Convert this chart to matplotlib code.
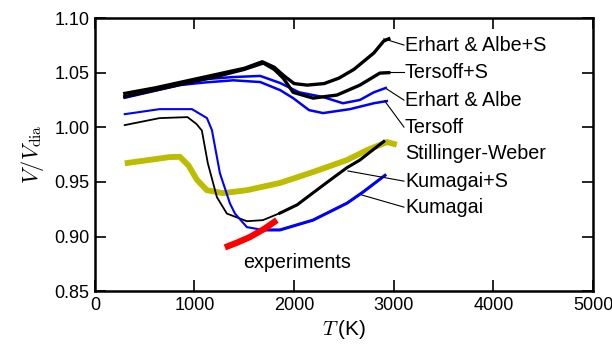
import matplotlib
matplotlib.use("Agg")
import matplotlib.pyplot as plt

plt.rcParams['font.family'] = ['Liberation Sans', 'DejaVu Sans']
plt.rcParams['mathtext.fontset'] = 'cm'

# -- data --
T_ea_s = [300, 600, 900, 1200, 1500, 1680, 1800, 1900, 2000, 2130, 2300, 2450, 2600, 2800, 2900, 2950]
V_ea_s = [1.031, 1.036, 1.042, 1.048, 1.054, 1.060, 1.055, 1.047, 1.040, 1.0386, 1.040, 1.045, 1.053, 1.068, 1.079, 1.081]

T_ter_s = [300, 900, 1200, 1500, 1690, 1800, 1890, 1990, 2190, 2430, 2660, 2860, 2950]
V_ter_s = [1.028, 1.040, 1.046, 1.053, 1.0588, 1.053, 1.045, 1.032, 1.0267, 1.0295, 1.0386, 1.0496, 1.050]

T_ea = [300, 850, 1100, 1390, 1660, 1860, 2050, 2290, 2490, 2660, 2800, 2920]
V_ea = [1.028, 1.0405, 1.044, 1.046, 1.047, 1.0405, 1.032, 1.0277, 1.022, 1.025, 1.032, 1.036]

T_ter = [300, 850, 1100, 1390, 1660, 1860, 1990, 2150, 2290, 2560, 2800, 2930]
V_ter = [1.027, 1.0386, 1.041, 1.043, 1.0414, 1.034, 1.0267, 1.0157, 1.013, 1.0166, 1.022, 1.024]

T_kum_s = [300, 650, 930, 1020, 1074, 1134, 1225, 1325, 1526, 1687, 1857, 2030, 2190, 2360, 2530, 2660, 2800, 2900]
V_kum_s = [1.002, 1.0084, 1.0093, 1.003, 0.997, 0.967, 0.936, 0.921, 0.914, 0.915, 0.9214, 0.929, 0.940, 0.9516, 0.963, 0.970, 0.980, 0.987]

T_kum = [300, 650, 975, 1125, 1175, 1255, 1355, 1406, 1526, 1687, 1857, 2189, 2530, 2690, 2912]
V_kum = [1.012, 1.0166, 1.0166, 1.0084, 0.9974, 0.958, 0.9305, 0.921, 0.9086, 0.906, 0.906, 0.915, 0.9305, 0.9406, 0.956]

T_sw = [300, 750, 853, 940, 1024, 1124, 1285, 1526, 1857, 2189, 2530, 2730, 2932, 3030]
V_sw = [0.967, 0.9727, 0.973, 0.965, 0.952, 0.9424, 0.9397, 0.9424, 0.949, 0.959, 0.970, 0.979, 0.9865, 0.984]

T_exp = [1305, 1430, 1556, 1700, 1827]
V_exp = [0.890, 0.8945, 0.8995, 0.907, 0.915]

labels = ["Erhart & Albe+S", "Tersoff+S", "Erhart & Albe", "Tersoff",
          "Stillinger-Weber", "Kumagai+S", "Kumagai"]
label_y = [1.0753, 1.0505, 1.0249, 1.0002, 0.9764, 0.9507, 0.9269]
# leader start points on the curves (None = no leader)
lead_T = [2900, 2880, 2930, 2910, None, 2540, 2680]
lead_V = [1.081, 1.0505, 1.035, 1.024, None, 0.960, 0.938]
label_T = 3112

fig = plt.figure(figsize=(6.12, 3.47), dpi=100)
ax = fig.add_axes([0.155, 0.161, 0.814, 0.787])

olive = '#bcbc00'
blue = '#0000ff'

ax.plot(T_sw, V_sw, color=olive, lw=4.2, solid_capstyle='butt')
ax.plot(T_ea, V_ea, color=blue, lw=1.8)
ax.plot(T_ter, V_ter, color=blue, lw=1.8)
ax.plot(T_ea_s, V_ea_s, color='black', lw=2.4)
ax.plot(T_ter_s, V_ter_s, color='black', lw=2.4)
ax.plot(T_kum_s, V_kum_s, color='black', lw=1.3)
ax.plot(T_kum_s[10:], V_kum_s[10:], color='black', lw=2.2)
ax.plot(T_kum, V_kum, color=blue, lw=1.5)
ax.plot(T_kum[9:], V_kum[9:], color=blue, lw=2.2)
ax.plot(T_exp, V_exp, color='#ff0000', lw=4.5, solid_capstyle='butt')

for lab, ly, lt, lv in zip(labels, label_y, lead_T, lead_V):
    ax.text(label_T, ly, lab, fontsize=14.2, va='center', ha='left')
    if lt is not None:
        ax.plot([lt, label_T - 10], [lv, ly], color='black', lw=0.8)

ax.text(2030, 0.8765, "experiments", fontsize=14.2, ha='center', va='center')

ax.set_xlim(0, 5000)
ax.set_ylim(0.85, 1.10)
ax.set_xticks([0, 1000, 2000, 3000, 4000, 5000])
ax.set_yticks([0.85, 0.90, 0.95, 1.00, 1.05, 1.10])
ax.set_yticklabels(["0.85", "0.90", "0.95", "1.00", "1.05", "1.10"])
ax.tick_params(direction='in', top=True, right=True, length=8, width=1.2,
               labelsize=13, pad=4)
for s in ax.spines.values():
    s.set_linewidth(1.8)

ax.set_xlabel(r"$T\,$(K)", fontsize=15, labelpad=3)
ax.set_ylabel(r"$V/V_{\rm dia}$", fontsize=16, labelpad=6)

fig.savefig("out.png", dpi=100)
